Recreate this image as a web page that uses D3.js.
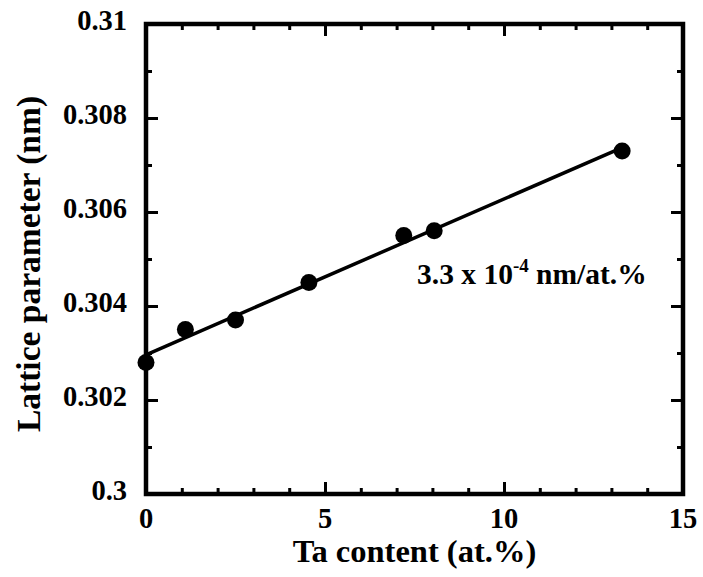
<!DOCTYPE html>
<html>
<head>
<meta charset="utf-8">
<script src="https://cdn.jsdelivr.net/npm/d3@7"></script>
<style>
  body { margin: 0; background: #fff; }
  text { font-family: "Liberation Serif", "Times New Roman", serif; font-weight: bold; fill: #000; }
</style>
</head>
<body>
<div id="chart"></div>
<script>

// data
const taContent = [0, 1.1, 2.5, 4.55, 7.2, 8.05, 13.3];
const latticeParam = [0.3028, 0.3035, 0.3037, 0.3045, 0.3055, 0.3056, 0.3073];

const xMajorTicks = [0, 5, 10, 15];
const xMinorTicks = d3.range(0, 16, 1);
const xTickLabels = ["0", "5", "10", "15"];
const yMajorTicks = [0.3, 0.302, 0.304, 0.306, 0.308, 0.31];
const yMinorTicks = [0.301, 0.303, 0.305, 0.307, 0.309];
const yTickLabels = ["0.3", "0.302", "0.304", "0.306", "0.308", "0.31"];

const width = 703;
const height = 577;

const plotLeft = 146, plotRight = 683, plotTop = 24, plotBottom = 494;

let svg = d3.select("#chart")
    .append("svg")
    .attr("width", width)
    .attr("height", height);

let xScale = d3.scaleLinear().domain([0, 15]).range([plotLeft, plotRight]);
let yScale = d3.scaleLinear().domain([0.3, 0.31]).range([plotBottom, plotTop]);

// ticks, all pointing inward
let tickAxis = function(axisFn, scale, values, size, transform) {
    let g = svg.append("g")
        .attr("transform", transform)
        .call(axisFn(scale).tickValues(values).tickSize(-size).tickFormat(""));
    g.select(".domain").remove();
    g.selectAll(".tick line").attr("stroke", "#000").attr("stroke-width", 3);
    return g;
};

tickAxis(d3.axisBottom, xScale, xMinorTicks, 6, `translate(0,${plotBottom})`);
tickAxis(d3.axisBottom, xScale, xMajorTicks, 12, `translate(0,${plotBottom})`);
tickAxis(d3.axisTop, xScale, xMinorTicks, 6, `translate(0,${plotTop})`);
tickAxis(d3.axisTop, xScale, xMajorTicks, 12, `translate(0,${plotTop})`);
tickAxis(d3.axisLeft, yScale, yMinorTicks, 6, `translate(${plotLeft},0)`);
tickAxis(d3.axisLeft, yScale, yMajorTicks, 12, `translate(${plotLeft},0)`);
tickAxis(d3.axisRight, yScale, yMinorTicks, 6, `translate(${plotRight},0)`);
tickAxis(d3.axisRight, yScale, yMajorTicks, 12, `translate(${plotRight},0)`);

// frame
svg.append("rect")
    .attr("x", plotLeft)
    .attr("y", plotTop)
    .attr("width", plotRight - plotLeft)
    .attr("height", plotBottom - plotTop)
    .attr("fill", "none")
    .attr("stroke", "#000")
    .attr("stroke-width", 4.5);

// tick labels
svg.selectAll("text.xlabel")
    .data(xMajorTicks)
    .join("text")
    .classed("xlabel", true)
    .attr("x", d => xScale(d))
    .attr("y", 528)
    .attr("text-anchor", "middle")
    .style("font-size", "28.5px")
    .text((d, i) => xTickLabels[i]);

svg.selectAll("text.ylabel")
    .data(yMajorTicks)
    .join("text")
    .classed("ylabel", true)
    .attr("x", 127)
    .attr("y", d => yScale(d) + 6)
    .attr("text-anchor", "end")
    .style("font-size", "28.5px")
    .text((d, i) => yTickLabels[i]);

// axis titles
svg.append("text")
    .attr("x", (plotLeft + plotRight) / 2)
    .attr("y", 562)
    .attr("text-anchor", "middle")
    .style("font-size", "32.5px")
    .text("Ta content (at.%)");

svg.append("text")
    .attr("transform", `translate(40, ${(plotTop + plotBottom) / 2 + 5}) rotate(-90)`)
    .attr("text-anchor", "middle")
    .style("font-size", "33.5px")
    .text("Lattice parameter (nm)");

// least squares fit
let mx = d3.mean(taContent), my = d3.mean(latticeParam);
let sxy = d3.sum(taContent, (x, i) => (x - mx) * (latticeParam[i] - my));
let sxx = d3.sum(taContent, x => (x - mx) * (x - mx));
let slope = sxy / sxx;
let intercept = my - slope * mx;
let fitX = [0, d3.max(taContent)];

svg.append("path")
    .datum(fitX)
    .attr("d", d3.line().x(d => xScale(d)).y(d => yScale(intercept + slope * d)))
    .attr("stroke", "#000")
    .attr("stroke-width", 3.5)
    .attr("fill", "none");

svg.selectAll("circle")
    .data(taContent)
    .join("circle")
    .attr("cx", d => xScale(d))
    .attr("cy", (d, i) => yScale(latticeParam[i]))
    .attr("r", 8.5)
    .attr("fill", "#000");

// slope annotation
let ann = svg.append("text")
    .attr("x", 417)
    .attr("y", 284)
    .style("font-size", "29.5px");
ann.append("tspan").text("3.3 x 10");
ann.append("tspan").attr("dy", -12).style("font-size", "19px").text("-4");
ann.append("tspan").attr("dy", 12).text(" nm/at.%");

</script>
</body>
</html>
